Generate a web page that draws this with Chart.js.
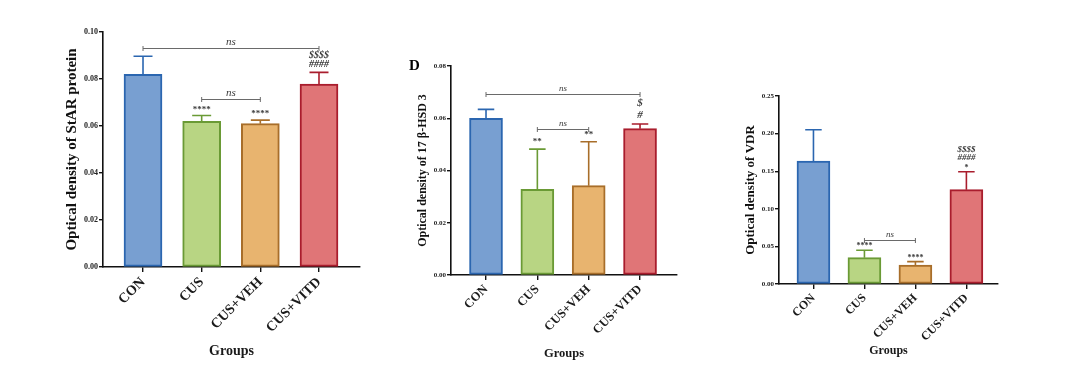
<!DOCTYPE html>
<html>
<head>
<meta charset="utf-8">
<script src="https://cdn.jsdelivr.net/npm/chart.js@4/dist/chart.umd.min.js"></script>
<style>
  html, body { margin: 0; padding: 0; background: #ffffff; }
  #wrap { position: relative; width: 1080px; height: 391px; overflow: hidden; }
  canvas { position: absolute; left: 0; top: 0; }
</style>
</head>
<body>
<div id="wrap">
  <canvas id="c1" width="1080" height="391"></canvas>
  <canvas id="c2" width="1080" height="391"></canvas>
  <canvas id="c3" width="1080" height="391"></canvas>
</div>
<script>
// ---------- DATA ----------
const categories = ['CON', 'CUS', 'CUS+VEH', 'CUS+VITD'];

const starValues = [0.0820, 0.0620, 0.0610, 0.0778];
const starErrors = [0.0077, 0.0025, 0.0015, 0.0050];
const starTicks  = [0.00, 0.02, 0.04, 0.06, 0.08, 0.10];
const starMarks  = [[], ['****'], ['****'], ['####', '$$$$']];
const starBrackets = [[0, 3, 0.0933, 'ns'], [1, 2, 0.0715, 'ns']];

const hsdValues = [0.0600, 0.0328, 0.0342, 0.0560];
const hsdErrors = [0.0034, 0.0154, 0.0168, 0.0018];
const hsdTicks  = [0.00, 0.02, 0.04, 0.06, 0.08];
const hsdMarks  = [[], ['**'], ['**'], ['#', '$']];
const hsdBrackets = [[0, 3, 0.0693, 'ns'], [1, 2, 0.0559, 'ns']];

const vdrValues = [0.1636, 0.0350, 0.0253, 0.1254];
const vdrErrors = [0.0416, 0.0098, 0.0044, 0.0239];
const vdrTicks  = [0.00, 0.05, 0.10, 0.15, 0.20, 0.25];
const vdrMarks  = [[], ['****'], ['****'], ['*', '####', '$$$$']];
const vdrBrackets = [[1, 2, 0.0580, 'ns']];

const fillColors   = ['#789fd1', '#b8d583', '#e8b46f', '#e07577'];
const borderColors = ['#2b66b0', '#6a9a35', '#a86e2a', '#a91d2d'];

const SERIF = '"Liberation Serif", "DejaVu Serif", serif';

// ---------- PLUGIN: error bars, significance marks, brackets ----------
const annotPlugin = {
  id: 'annot',
  afterDatasetsDraw(chart, args, opts) {
    const ctx = chart.ctx;
    const xs = chart.scales.x, ys = chart.scales.y;
    const meta = chart.getDatasetMeta(0);
    const vals = chart.data.datasets[0].data;
    ctx.save();
    opts.errors.forEach((e, i) => {
      const bar = meta.data[i];
      const x = bar.x;
      const y0 = ys.getPixelForValue(vals[i].y);
      const y1 = ys.getPixelForValue(vals[i].y + e);
      const half = opts.capHalf;
      ctx.strokeStyle = borderColors[i];
      ctx.lineWidth = 1.6;
      ctx.beginPath();
      ctx.moveTo(x, y0); ctx.lineTo(x, y1);
      ctx.moveTo(x - half, y1); ctx.lineTo(x + half, y1);
      ctx.stroke();
      const marks = opts.marks[i];
      ctx.fillStyle = '#3a3a3a';
      ctx.textAlign = 'center';
      ctx.textBaseline = 'middle';
      marks.forEach((m, k) => {
        const isStar = m.indexOf('*') >= 0;
        ctx.font = (isStar ? 'bold ' : 'italic bold ') + (isStar ? opts.starSize : opts.markSize) + 'px ' + SERIF;
        const yy = y1 - opts.markGap - k * opts.markStep + (isStar ? 2 : 0);
        ctx.fillText(m, x, yy);
      });
    });
    opts.brackets.forEach(b => {
      const xa = xs.getPixelForValue(b[0]);
      const xb = xs.getPixelForValue(b[1]);
      const y = Math.round(ys.getPixelForValue(b[2])) + 0.5;
      ctx.strokeStyle = '#6a6a6a';
      ctx.lineWidth = 1;
      ctx.beginPath();
      ctx.moveTo(xa, y); ctx.lineTo(xb, y);
      ctx.moveTo(xa, y - 2.5); ctx.lineTo(xa, y + 2.5);
      ctx.moveTo(xb, y - 2.5); ctx.lineTo(xb, y + 2.5);
      ctx.stroke();
      ctx.fillStyle = '#3a3a3a';
      ctx.font = 'italic ' + opts.nsSize + 'px ' + SERIF;
      ctx.textAlign = 'center';
      ctx.textBaseline = 'bottom';
      ctx.fillText(b[3], (xa + xb) / 2, y - 1);
    });
    if (opts.letter) {
      ctx.fillStyle = '#000';
      ctx.font = 'bold 15px ' + SERIF;
      ctx.textAlign = 'left';
      ctx.textBaseline = 'middle';
      ctx.fillText(opts.letter[0], opts.letter[1], opts.letter[2]);
    }
    ctx.restore();
  }
};

function makePanel(id, values, errors, ticks, marks, brackets, p) {
  const data = categories.map((c, i) => ({ x: i, y: values[i] }));
  return new Chart(document.getElementById(id), {
    type: 'bar',
    data: {
      datasets: [{
        data: data,
        backgroundColor: fillColors,
        borderColor: borderColors,
        borderWidth: 2,
        borderSkipped: false,
        barThickness: p.barW
      }]
    },
    options: {
      responsive: false,
      animation: false,
      events: [],
      layout: { padding: { left: p.left, top: p.top, right: 1080 - p.right, bottom: 391 - p.bottom } },
      plugins: {
        legend: { display: false },
        tooltip: { enabled: false },
        annot: {
          errors: errors, marks: marks, brackets: brackets,
          capHalf: p.barW / 4, markGap: p.markGap, markStep: p.markStep,
          starSize: p.starSize, markSize: p.markSize, nsSize: p.nsSize,
          letter: p.letter
        }
      },
      scales: {
        x: {
          type: 'linear',
          offset: false,
          min: p.xmin, max: p.xmax,
          afterBuildTicks: s => { s.ticks = categories.map((c, i) => ({ value: i })); },
          afterFit: s => { s.height = p.xh; },
          border: { display: true, color: '#111', width: 1.6 },
          grid: { offset: false, drawOnChartArea: false, drawTicks: true, tickLength: 5, color: '#111', lineWidth: 1.4 },
          ticks: {
            autoSkip: false, minRotation: 45, maxRotation: 45, padding: 2,
            color: '#1a1a1a',
            font: { family: SERIF, size: p.xFont, weight: 'bold' },
            callback: v => categories[v]
          },
          title: {
            display: true, text: 'Groups', color: '#1a1a1a', padding: 0,
            font: { family: SERIF, size: p.gFont, weight: 'bold', lineHeight: 1.2 }
          }
        },
        y: {
          min: ticks[0], max: ticks[ticks.length - 1],
          afterBuildTicks: s => { s.ticks = ticks.map(v => ({ value: v })); },
          afterFit: s => { s.width = p.yw; },
          border: { display: true, color: '#111', width: 1.6 },
          grid: { drawOnChartArea: false, drawTicks: true, tickLength: 4, color: '#111', lineWidth: 1.4 },
          ticks: {
            padding: 1, color: '#222',
            font: { family: SERIF, size: p.yFont, weight: 'bold' },
            callback: v => Number(v).toFixed(2)
          },
          title: {
            display: true, text: p.ytitle, color: '#111', padding: 0,
            font: { family: SERIF, size: p.tFont, weight: 'bold', lineHeight: 1.2 }
          }
        }
      }
    },
    plugins: [annotPlugin]
  });
}

makePanel('c1', starValues, starErrors, starTicks, starMarks, starBrackets, {
  left: 63, top: 32, right: 360, bottom: 360, yw: 40, xh: 93,
  xmin: -0.682, xmax: 3.699, barW: 38,
  xFont: 14, gFont: 14, yFont: 8, tFont: 15,
  ytitle: 'Optical density of StAR protein',
  markGap: 8, markStep: 9, starSize: 9, markSize: 10, nsSize: 11
});

makePanel('c2', hsdValues, hsdErrors, hsdTicks, hsdMarks, hsdBrackets, {
  left: 416, top: 66, right: 677, bottom: 361, yw: 35, xh: 86,
  xmin: -0.682, xmax: 3.72, barW: 33,
  xFont: 12.5, gFont: 12.5, yFont: 7, tFont: 12,
  ytitle: 'Optical density of 17 β-HSD 3',
  markGap: 9, markStep: 12, starSize: 9, markSize: 11, nsSize: 9,
  letter: ['D', 409, 66]
});

makePanel('c3', vdrValues, vdrErrors, vdrTicks, vdrMarks, vdrBrackets, {
  left: 743, top: 96, right: 998, bottom: 358, yw: 36, xh: 74,
  xmin: -0.676, xmax: 3.62, barW: 33,
  xFont: 12, gFont: 12, yFont: 7, tFont: 13,
  ytitle: 'Optical density of VDR',
  markGap: 6, markStep: 8, starSize: 8, markSize: 9, nsSize: 9
});
</script>
</body>
</html>
